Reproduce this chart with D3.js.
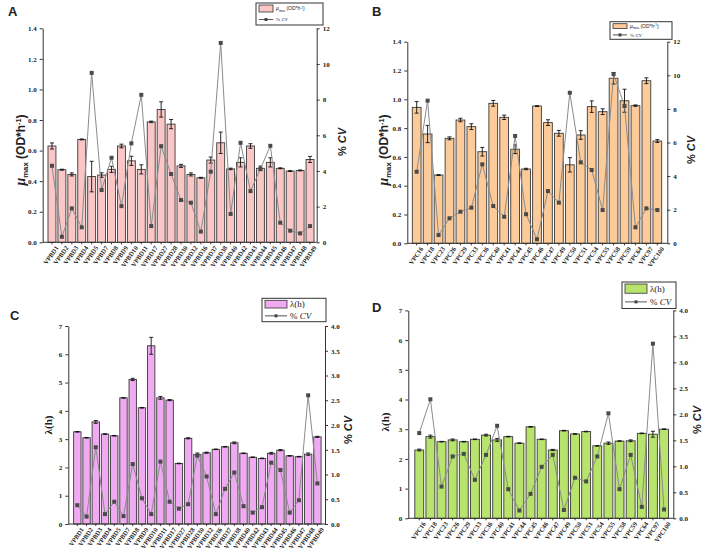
<!DOCTYPE html>
<html>
<head>
<meta charset="utf-8">
<script src="https://cdn.jsdelivr.net/npm/d3@7"></script>
<style>
  body { margin: 0; background: #fff; }
  svg { font-family: 'Liberation Sans', Arial, sans-serif; }
  .tick text { font-family: 'Liberation Serif', serif; font-weight: bold; fill: #222; }
  .axis path, .axis line { stroke: #333; }
</style>
</head>
<body>
<div id="chart"></div>
<script>
// categories
const strainsBD = ["VPBD1","VPBD2","VPBD3","VPBD4","VPBD5","VPBD7","VPBD8","VPBD9","VPBD10","VPBD11",
  "VPBD17","VPBD27","VPBD28","VPBD30","VPBD32","VPBD36","VPBD37","VPBD38","VPBD40","VPBD42",
  "VPBD43","VPBD44","VPBD45","VPBD46","VPBD47","VPBD48","VPBD49"];
const strainsC = ["VPC16","VPC18","VPC23","VPC26","VPC29","VPC33","VPC36","VPC40","VPC41","VPC44",
  "VPC45","VPC46","VPC47","VPC49","VPC50","VPC51","VPC54","VPC55","VPC58","VPC59","VPC64","VPC97","VPC100"];

// panel A: mu max (OD*h-1) and %CV
const muA    = [0.63,0.475,0.444,0.673,0.43,0.44,0.477,0.63,0.533,0.477,0.788,0.869,0.773,0.50,0.444,0.422,0.538,0.651,0.48,0.523,0.63,0.484,0.523,0.484,0.466,0.47,0.542];
const muAErr = [0.02,0.003,0.01,0.003,0.1,0.015,0.02,0.012,0.03,0.03,0.005,0.05,0.03,0.01,0.01,0.003,0.02,0.07,0.005,0.03,0.015,0.015,0.03,0.003,0.003,0.003,0.02];
const cvA    = [4.29,0.31,1.9,0.84,9.5,2.93,4.74,2.03,5.55,8.27,0.91,5.39,3.83,2.37,2.22,0.6,3.96,11.18,1.59,5.58,2.87,4.11,5.41,1.1,0.65,0.5,0.91];

// panel B
const muB    = [0.944,0.759,0.474,0.729,0.856,0.81,0.636,0.972,0.875,0.653,0.516,0.953,0.838,0.764,0.545,0.752,0.949,0.914,1.146,0.99,0.956,1.129,0.71];
const muBErr = [0.04,0.06,0.003,0.01,0.012,0.02,0.03,0.02,0.015,0.03,0.005,0.003,0.02,0.02,0.05,0.03,0.04,0.02,0.04,0.08,0.005,0.02,0.01];
const cvB    = [4.26,8.49,0.49,1.49,1.88,2.12,4.7,2.22,1.58,6.39,1.73,0.24,3.11,2.42,8.96,4.82,4.36,1.98,10.08,8.17,0.95,2.08,1.98];

// panel C: lambda (h)
const lamC    = [3.26,3.05,3.61,3.18,3.12,4.46,5.11,4.11,6.3,4.46,4.38,2.14,3.03,2.46,2.52,2.64,2.73,2.87,2.5,2.36,2.32,2.5,2.61,2.41,2.38,2.47,3.08];
const lamCErr = [0.01,0.01,0.05,0.01,0.01,0.01,0.04,0.01,0.3,0.05,0.02,0.01,0.02,0.05,0.02,0.01,0.01,0.03,0.01,0.01,0.01,0.03,0.02,0.01,0.01,0.04,0.02];
const cvC     = [0.38,0.15,1.55,0.2,0.45,0.16,1.21,0.52,0.2,1.26,0.45,0.31,0.4,1.38,0.96,0.2,0.71,1.04,0.36,0.23,0.34,1.24,1.09,0.23,0.48,2.6,0.82];

// panel D
const lamD    = [2.3,2.75,2.58,2.64,2.58,2.66,2.8,2.64,2.75,2.53,3.08,2.66,2.3,2.95,2.84,2.92,2.44,2.53,2.6,2.61,2.86,2.83,3.0];
const lamDErr = [0.03,0.05,0.01,0.03,0.01,0.01,0.03,0.05,0.01,0.01,0.01,0.01,0.02,0.01,0.01,0.01,0.01,0.04,0.01,0.03,0.01,0.1,0.01];
const cvD     = [1.64,2.29,0.61,1.19,1.24,0.74,1.22,1.78,0.56,0.15,0.47,0.99,1.22,0.16,0.78,0.71,1.19,2.02,0.56,1.22,0.22,3.36,0.17];

const muTicks = [0,0.2,0.4,0.6,0.8,1.0,1.2,1.4];
const cvTicksAB = [0,2,4,6,8,10,12];
const lamTicks = [0,1,2,3,4,5,6,7];
const cvTicksCD = [0,0.5,1.0,1.5,2.0,2.5,3.0,3.5,4.0];

const svg = d3.select('#chart').append('svg').attr('width', 704).attr('height', 550);

const panels = [
  { id:'A', labels:strainsBD, vals:muA, err:muAErr, cv:cvA, color:'#fbc6c6', kind:'mu',
    xl:42.7, xr:316.7, band:[47,315], y0:242.3, y1:28.3, yMax:1.4, cvMax:12,
    yTicks:muTicks, cvTicks:cvTicksAB, yFmt:d3.format('.1f'), cvFmt:d3.format('d'),
    letter:[8,16], titleL:[25,150], titleR:[346,142],
    legend:{x:256,y:3,w:67,h:22} },
  { id:'B', labels:strainsC, vals:muB, err:muBErr, cv:cvB, color:'#fccb99', kind:'mu',
    xl:407.3, xr:667.3, band:[411.2,662.8], y0:243.3, y1:41.7, yMax:1.4, cvMax:12,
    yTicks:muTicks, cvTicks:cvTicksAB, yFmt:d3.format('.1f'), cvFmt:d3.format('d'),
    letter:[372,16], titleL:[388,150], titleR:[695,150],
    legend:{x:610,y:21.7,w:62,h:17.6} },
  { id:'C', labels:strainsBD, vals:lamC, err:lamCErr, cv:cvC, color:'#efaaf1', kind:'lam',
    xl:68.3, xr:325, band:[72.7,322], y0:524, y1:326, yMax:7, cvMax:4,
    yTicks:lamTicks, cvTicks:cvTicksCD, yFmt:d3.format('d'), cvFmt:d3.format('.1f'),
    letter:[10,320], titleL:[52,425], titleR:[352,430],
    legend:{x:262,y:298.3,w:64,h:23.4} },
  { id:'D', labels:strainsC, vals:lamD, err:lamDErr, cv:cvD, color:'#b8e36c', kind:'lam',
    xl:408.3, xr:673.3, band:[413.7,669.6], y0:518.3, y1:310.4, yMax:7, cvMax:4,
    yTicks:lamTicks, cvTicks:cvTicksCD, yFmt:d3.format('d'), cvFmt:d3.format('.1f'),
    letter:[372,312], titleL:[389,422], titleR:[701,420],
    legend:{x:622,y:282,w:54,h:26.5} }
];

function muTitle(t, size) {
  t.append('tspan').attr('font-style','italic').attr('font-family','Liberation Serif, serif')
    .attr('font-size', size*1.15).text('μ');
  t.append('tspan').attr('font-size', size*0.65).attr('dy', size*0.25).text('max');
  t.append('tspan').attr('dy', -size*0.25).text(' (OD*h');
  t.append('tspan').attr('font-size', size*0.6).attr('dy', -size*0.35).text('-1');
  t.append('tspan').attr('dy', size*0.35).text(')');
}
function cvTitle(t) {
  t.append('tspan').text('% ');
  t.append('tspan').attr('font-style','italic').text('CV');
}

function drawPanel(p) {
  const g = svg.append('g');
  const x = d3.scaleBand().domain(p.labels).range(p.band).paddingInner(0.2).paddingOuter(0.1);
  const y = d3.scaleLinear().domain([0, p.yMax]).range([p.y0, p.y1]);
  const y2 = d3.scaleLinear().domain([0, p.cvMax]).range([p.y0, p.y1]);
  const cx = (d,i) => x(p.labels[i]) + x.bandwidth()/2;

  // bars
  g.selectAll('rect.bar').data(p.vals).join('rect').attr('class','bar')
    .attr('x', (d,i)=>x(p.labels[i])).attr('y', d=>y(d))
    .attr('width', x.bandwidth()).attr('height', d=>p.y0 - y(d))
    .attr('fill', p.color).attr('stroke', '#3a3a3a').attr('stroke-width', 0.9);

  // error bars
  const eb = g.selectAll('g.err').data(p.vals).join('g').attr('class','err');
  eb.append('line').attr('x1', cx).attr('x2', cx)
    .attr('y1', (d,i)=>y(d + p.err[i])).attr('y2', (d,i)=>y(d - p.err[i]))
    .attr('stroke', '#111').attr('stroke-width', 0.9);
  eb.append('line').attr('x1', (d,i)=>cx(d,i)-2).attr('x2', (d,i)=>cx(d,i)+2)
    .attr('y1', (d,i)=>y(d + p.err[i])).attr('y2', (d,i)=>y(d + p.err[i]))
    .attr('stroke', '#111').attr('stroke-width', 0.9);
  eb.append('line').attr('x1', (d,i)=>cx(d,i)-2).attr('x2', (d,i)=>cx(d,i)+2)
    .attr('y1', (d,i)=>y(d - p.err[i])).attr('y2', (d,i)=>y(d - p.err[i]))
    .attr('stroke', '#111').attr('stroke-width', 0.9);

  // CV line
  const line = d3.line().x((d,i)=>cx(d,i)).y(d=>y2(d));
  g.append('path').datum(p.cv).attr('d', line)
    .attr('fill','none').attr('stroke','#8c8c8c').attr('stroke-width', 1);
  g.selectAll('rect.mk').data(p.cv).join('rect').attr('class','mk')
    .attr('x', (d,i)=>cx(d,i)-2).attr('y', d=>y2(d)-2)
    .attr('width', 4).attr('height', 4).attr('fill', '#4a4a4a');

  // axes
  g.append('g').attr('class','axis').attr('transform', `translate(${p.xl},0)`)
    .call(d3.axisLeft(y).tickValues(p.yTicks).tickFormat(p.yFmt).tickSize(3).tickSizeOuter(0))
    .selectAll('text').attr('font-size', 7);
  g.append('g').attr('class','axis').attr('transform', `translate(${p.xr},0)`)
    .call(d3.axisRight(y2).tickValues(p.cvTicks).tickFormat(p.cvFmt).tickSize(3).tickSizeOuter(0))
    .selectAll('text').attr('font-size', 7);
  const xa = g.append('g').attr('class','axis').attr('transform', `translate(0,${p.y0})`)
    .call(d3.axisBottom(x).tickSize(2).tickSizeOuter(0));
  xa.select('.domain').remove();
  xa.selectAll('text').attr('font-size', 6.5)
    .attr('text-anchor','end').attr('dx', '-0.1em').attr('dy', '0.6em')
    .attr('transform', 'rotate(-55)');
  g.append('line').attr('x1', p.xl).attr('x2', p.xr).attr('y1', p.y0).attr('y2', p.y0)
    .attr('stroke', '#333');

  // panel letter
  svg.append('text').attr('x', p.letter[0]).attr('y', p.letter[1])
    .attr('font-size', 13).attr('font-weight','bold').attr('fill','#222').text(p.id);

  // axis titles
  const tl = svg.append('text').attr('transform', `translate(${p.titleL[0]},${p.titleL[1]}) rotate(-90)`)
    .attr('text-anchor','middle').attr('font-weight','bold').attr('fill','#222');
  if (p.kind === 'mu') { tl.attr('font-size', 12); muTitle(tl, 12); }
  else { tl.attr('font-size', 11).attr('font-family','Liberation Serif, serif').text('λ(h)'); }
  const tr = svg.append('text').attr('transform', `translate(${p.titleR[0]},${p.titleR[1]}) rotate(-90)`)
    .attr('text-anchor','middle').attr('font-size', 11).attr('font-weight','bold').attr('fill','#222');
  cvTitle(tr);

  // legend
  const L = p.legend;
  const lg = svg.append('g');
  lg.append('rect').attr('x', L.x).attr('y', L.y).attr('width', L.w).attr('height', L.h)
    .attr('fill','#fff').attr('stroke','#333').attr('stroke-width', 1);
  const sw = p.kind === 'mu' ? 14 : 22;
  const rowH = L.h / 2;
  lg.append('rect').attr('x', L.x + 3).attr('y', L.y + 2).attr('width', sw).attr('height', rowH - 4)
    .attr('fill', p.color).attr('stroke','#333').attr('stroke-width', 0.8);
  lg.append('line').attr('x1', L.x + 3).attr('x2', L.x + 3 + sw)
    .attr('y1', L.y + rowH*1.5).attr('y2', L.y + rowH*1.5).attr('stroke', '#555');
  lg.append('rect').attr('x', L.x + 3 + sw/2 - 1.5).attr('y', L.y + rowH*1.5 - 1.5)
    .attr('width', 3).attr('height', 3).attr('fill', '#444');
  const fs = p.kind === 'mu' ? 5 : 9;
  const t1 = lg.append('text').attr('x', L.x + sw + 6).attr('y', L.y + rowH*0.5 + fs*0.35)
    .attr('font-size', fs).attr('fill','#222');
  if (p.kind === 'mu') muTitle(t1, fs);
  else t1.attr('font-family','Liberation Serif, serif').text('λ(h)');
  const t2 = lg.append('text').attr('x', L.x + sw + 6).attr('y', L.y + rowH*1.5 + fs*0.35)
    .attr('font-size', fs).attr('fill','#222').attr('font-family','Liberation Serif, serif');
  cvTitle(t2);
}

panels.forEach(drawPanel);
</script>
</body>
</html>
